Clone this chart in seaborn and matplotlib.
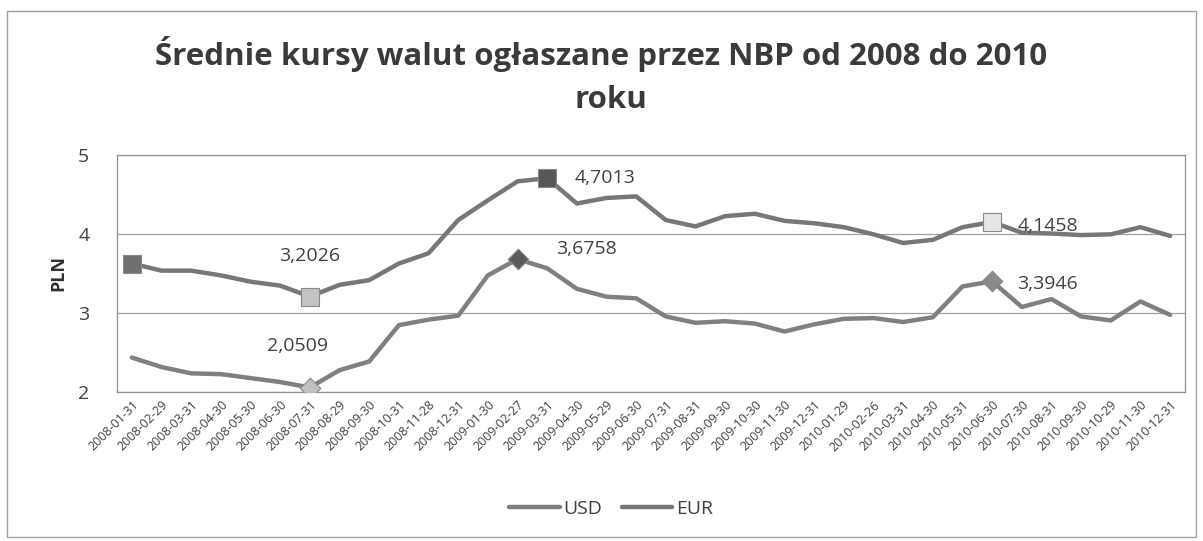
import matplotlib
matplotlib.use("Agg")
import matplotlib.pyplot as plt
import seaborn as sns
import pandas as pd
from matplotlib.patches import Rectangle

dates = ["2008-01-31", "2008-02-29", "2008-03-31", "2008-04-30", "2008-05-30", "2008-06-30",
         "2008-07-31", "2008-08-29", "2008-09-30", "2008-10-31", "2008-11-28", "2008-12-31",
         "2009-01-30", "2009-02-27", "2009-03-31", "2009-04-30", "2009-05-29", "2009-06-30",
         "2009-07-31", "2009-08-31", "2009-09-30", "2009-10-30", "2009-11-30", "2009-12-31",
         "2010-01-29", "2010-02-26", "2010-03-31", "2010-04-30", "2010-05-31", "2010-06-30",
         "2010-07-30", "2010-08-31", "2010-09-30", "2010-10-29", "2010-11-30", "2010-12-31"]

usd = [2.43, 2.31, 2.23, 2.22, 2.17, 2.12, 2.0509, 2.27, 2.38, 2.84, 2.91, 2.96,
       3.47, 3.6758, 3.56, 3.30, 3.20, 3.18, 2.95, 2.87, 2.89, 2.86, 2.76, 2.85,
       2.92, 2.93, 2.88, 2.94, 3.33, 3.3946, 3.07, 3.17, 2.95, 2.90, 3.14, 2.97]

eur = [3.62, 3.53, 3.53, 3.47, 3.39, 3.34, 3.2026, 3.35, 3.41, 3.62, 3.75, 4.17,
       4.42, 4.66, 4.7013, 4.38, 4.45, 4.47, 4.17, 4.09, 4.22, 4.25, 4.16, 4.13,
       4.08, 3.99, 3.88, 3.92, 4.08, 4.1458, 4.01, 4.00, 3.98, 3.99, 4.08, 3.97]

# highlighted points (index into dates)
eur_marks = [0, 6, 14, 29]
eur_labels = {6: "3,2026", 14: "4,7013", 29: "4,1458"}
usd_marks = [6, 13, 29]
usd_labels = {6: "2,0509", 13: "3,6758", 29: "3,3946"}

sns.set_theme(style="white")
plt.rcParams["font.family"] = ["Open Sans", "DejaVu Sans"]

fig = plt.figure(figsize=(12.03, 5.41), dpi=100)
ax = fig.add_axes([0.0973, 0.2763, 0.8877, 0.4381])

x = list(range(len(dates)))
df = pd.DataFrame({"x": x * 2, "val": usd + eur,
                   "cur": ["USD"] * len(usd) + ["EUR"] * len(eur)})
sns.lineplot(data=df, x="x", y="val", hue="cur", hue_order=["USD", "EUR"],
             palette={"USD": "#808080", "EUR": "#777777"}, linewidth=3.2, ax=ax,
             legend=True)

eur_cols = ["#6f6f6f", "#c4c4c4", "#575757", "#e6e6e6"]
for i, c in zip(eur_marks, eur_cols):
    ax.scatter([x[i]], [eur[i]], marker="s", s=150, color=c, edgecolor="#8a8a8a",
               linewidth=0.8, zorder=5)
usd_cols = ["#c0c0c0", "#5a5a5a", "#8a8a8a"]
for i, c in zip(usd_marks, usd_cols):
    ax.scatter([x[i]], [usd[i]], marker="D", s=110, color=c, edgecolor="#8a8a8a",
               linewidth=0.8, zorder=5)

lbl_kw = dict(fontsize=14, color="#404040", zorder=6)
ax.annotate(eur_labels[6], (x[6], eur[6]), xytext=(0, 29), textcoords="offset points",
            ha="center", va="center", **lbl_kw)
ax.annotate(usd_labels[6], (x[6], usd[6]), xytext=(-9, 30), textcoords="offset points",
            ha="center", va="center", **lbl_kw)
ax.annotate(eur_labels[14], (x[14], eur[14]), xytext=(20, 0), textcoords="offset points",
            ha="left", va="center", **lbl_kw)
ax.annotate(usd_labels[13], (x[13], usd[13]), xytext=(28, 7), textcoords="offset points",
            ha="left", va="center", **lbl_kw)
ax.annotate(eur_labels[29], (x[29], eur[29]), xytext=(18, -3), textcoords="offset points",
            ha="left", va="center", **lbl_kw)
ax.annotate(usd_labels[29], (x[29], usd[29]), xytext=(18, -2), textcoords="offset points",
            ha="left", va="center", **lbl_kw)

ax.set_xlim(-0.5, len(dates) - 0.5)
ax.set_ylim(2, 5)
ax.set_yticks([2, 3, 4, 5])
ax.set_yticklabels(["2", "3", "4", "5"], fontsize=14, color="#404040")
ax.set_xticks(x)
ax.set_xticklabels(dates, rotation=45, ha="right", rotation_mode="anchor",
                   fontsize=9, color="#404040")
ax.tick_params(axis="x", length=0, pad=5)
ax.tick_params(axis="y", length=0, pad=20)
ax.yaxis.grid(True, color="#a0a0a0", linewidth=0.9)
ax.set_axisbelow(True)
for s in ax.spines.values():
    s.set_color("#909090")
    s.set_linewidth(0.9)
ax.set_xlabel("")
ax.set_ylabel("PLN", fontsize=13, fontweight="bold", color="#303030", labelpad=8)

handles, labels = ax.get_legend_handles_labels()
ax.legend(handles, labels, loc="center", frameon=False, ncol=2, fontsize=14,
          handlelength=2.6, columnspacing=1.0, handletextpad=0.2,
          labelcolor="#404040")
leg = ax.get_legend()
leg.set_bbox_to_anchor((0.508, 0.06), transform=fig.transFigure)

fig.text(0.5, 0.90, "Średnie kursy walut ogłaszane przez NBP od 2008 do 2010",
         ha="center", va="center", fontsize=22.5, fontweight="bold", color="#3a3a3a")
fig.text(0.508, 0.815, "roku", ha="center", va="center", fontsize=22.5,
         fontweight="bold", color="#3a3a3a")

fig.patches.append(Rectangle((0.006, 0.008), 0.988, 0.972, transform=fig.transFigure,
                             fill=False, edgecolor="#a0a0a0", linewidth=1.0))

fig.savefig("out.png", dpi=100, facecolor="white")
